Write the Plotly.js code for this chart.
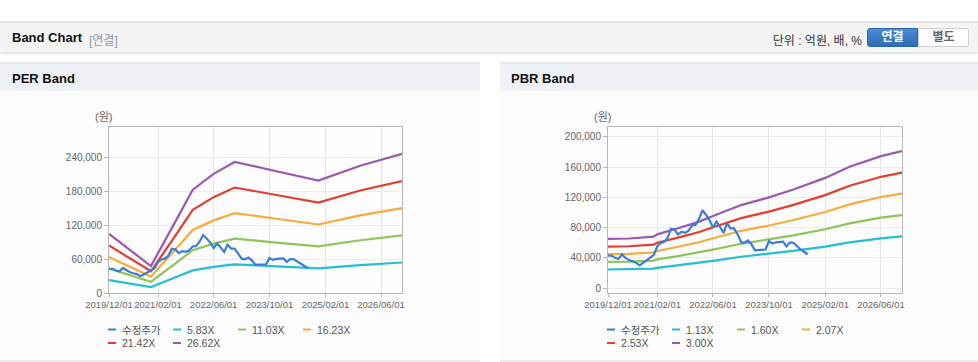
<!DOCTYPE html>
<html><head><meta charset="utf-8">
<script src="https://cdn.plot.ly/plotly-3.0.1.min.js"></script>
<style>
body{margin:0;width:978px;height:362px;background:#fff;position:relative;overflow:hidden;font-family:"Liberation Sans",Arial,"Noto Sans CJK KR",sans-serif;}
#hdr{position:absolute;left:0;top:21px;width:978px;height:29px;background:#f4f4f4;border-top:2px solid #e3e3e3;box-shadow:0 2px 2px rgba(0,0,0,0.13);}
#hdr .t{position:absolute;left:12px;top:7px;font-size:13px;font-weight:bold;color:#111;}
#hdr .s{position:absolute;left:89px;top:8px;font-size:12px;color:#8a96a8;}
#hdr .u{position:absolute;right:116px;top:8px;font-size:12px;color:#333;}
.btn{position:absolute;top:5px;height:17px;width:49px;font-size:12px;font-weight:bold;text-align:center;line-height:17px;}
#b1{left:867px;background:linear-gradient(#4b8cd4,#2f6cb3);border:1px solid #2c66aa;color:#fff;border-radius:3px 0 0 3px;}
#b2{left:918px;background:#fff;border:1px solid #cfcfcf;color:#666;border-radius:0 3px 3px 0;}
.ptitle{position:absolute;top:62px;height:27px;background:#eef1f6;border-top:2px solid #e4e7ec;}
.ptitle span{position:absolute;left:12px;top:7px;font-size:13px;font-weight:bold;color:#111;}
.pbody{position:absolute;top:91px;height:269px;background:#fcfcfc;border-bottom:2px solid #ececec;}
</style></head>
<body>
<div id="hdr"><span class="t">Band Chart</span><span class="s">[연결]</span><span class="u">단위 : 억원, 배, %</span><div class="btn" id="b1">연결</div><div class="btn" id="b2">별도</div></div>
<div class="ptitle" style="left:0;width:480px;"><span>PER Band</span></div>
<div class="ptitle" style="left:500px;width:478px;"><span style="left:11px">PBR Band</span></div>
<div class="pbody" style="left:0;width:480px;"><div id="per"></div></div>
<div class="pbody" style="left:500px;width:478px;"><div id="pbr"></div></div>
<script>
const priceDates = ['2019-12-01','2020-01-01','2020-02-01','2020-03-01','2020-04-01','2020-05-01','2020-06-01','2020-07-01','2020-08-01','2020-09-01','2020-10-01','2020-11-01','2020-12-01','2021-01-01','2021-02-01','2021-03-01','2021-04-01','2021-05-01','2021-06-01','2021-07-01','2021-08-01','2021-09-01','2021-10-01','2021-11-01','2021-12-01','2022-01-01','2022-02-01','2022-03-01','2022-04-01','2022-05-01','2022-06-01','2022-07-01','2022-08-01','2022-09-01','2022-10-01','2022-11-01','2022-12-01','2023-01-01','2023-02-01','2023-03-01','2023-04-01','2023-05-01','2023-06-01','2023-07-01','2023-08-01','2023-09-01','2023-10-01','2023-11-01','2023-12-01','2024-01-01','2024-02-01','2024-03-01','2024-04-01','2024-05-01','2024-06-01','2024-07-01','2024-08-01','2024-09-01'];
const priceValues = [43000,43000,40000,38500,44500,40000,37000,35000,33500,30000,33500,37500,40000,43500,55000,59500,61000,66000,78500,77500,71000,74500,73000,76000,83000,83500,92000,103000,97000,90000,80000,88000,81000,73000,86000,79000,79000,71000,61000,60000,63000,58000,50000,50500,50500,51000,62000,59000,60500,60500,61500,55000,60500,60000,55500,51000,48000,44500];

const perBandDates = ['2019-12-01','2020-12-01','2021-06-01','2021-12-01','2022-06-01','2022-12-01','2023-12-01','2024-12-01','2025-12-01','2026-12-01'];
const perBand583  = [22970,10490,25240,40230,46350,51010,47400,43730,49560,54160];
const perBand1103 = [43460,19850,47760,76110,87690,96510,89670,82730,93760,102470];
const perBand1623 = [63950,29210,70280,111990,129030,142010,131950,121730,137960,150780];
const perBand2142 = [84400,38560,92750,147800,170290,187430,174150,160650,182070,198990];
const perBand2662 = [104880,47920,115260,183680,211630,232930,216420,199650,226270,247300];
const perNames = ['수정주가','5.83X','11.03X','16.23X','21.42X','26.62X'];

const pbrBandDates = ['2019-12-01','2020-06-01','2021-01-01','2021-02-01','2021-08-01','2022-02-01','2022-06-01','2023-02-01','2023-10-01','2024-05-01','2025-02-01','2025-09-01','2026-06-01','2026-12-01'];
const pbrBand113 = [24520,24690,25650,26780,29830,33110,35930,41360,45200,49160,54920,60460,65770,68250];
const pbrBand160 = [34720,34960,36320,37920,42240,46880,50880,58560,64000,69600,77760,85600,93120,96640];
const pbrBand207 = [44920,45230,46990,49060,54650,60650,65830,75760,82800,90050,100600,110750,120470,125030];
const pbrBand253 = [54900,55280,57430,59960,66790,74130,80450,92600,101200,110060,122960,135360,147250,152810];
const pbrBand300 = [65100,65550,68100,71100,79200,87900,95400,109800,120000,130500,145800,160500,174600,181200];
const pbrNames = ['수정주가','1.13X','1.60X','2.07X','2.53X','3.00X'];

const xTickVals = ['2019-12-01','2021-02-01','2022-06-01','2023-10-01','2025-02-01','2026-06-01'];
const xRange = ['2019-12-01','2026-12-01'];
const perYTicks = [0,60000,120000,180000,240000];
const perYRange = [0,295000];
const pbrYTicks = [0,40000,80000,120000,160000,200000];
const pbrYRange = [-6600,213200];
const yUnit = '(원)';
const seriesColors = ['#3b7dd8','#22bfd3','#8fc45a','#f7ab3a','#e23f2f','#9d57b0'];

function makeChart(id, W, H, m, bandDates, bands, names, yTicks, yRange) {
  const plotW = W - m.l - m.r, plotH = H - m.t - m.b;
  const traces = [];
  bands.forEach((b, i) => traces.push({x: bandDates, y: b, type:'scatter', mode:'lines', name: names[i+1],
    line:{color: seriesColors[i+1], width:2.2}, hoverinfo:'skip'}));
  traces.push({x: priceDates, y: priceValues, type:'scatter', mode:'lines', name: names[0],
    line:{color: seriesColors[0], width:2.2}, hoverinfo:'skip'});
  const shapes = [], annotations = [];
  const fontFam = '"Liberation Sans", Arial, "Noto Sans CJK KR", sans-serif';
  names.forEach((n, i) => {
    const col = i % 4, row = Math.floor(i / 4);
    const px = -1 + col * 65;           // relative to plot left
    const py = 36.5 + row * 13.5;       // below plot bottom
    const yp = -py / plotH;
    shapes.push({type:'line', xref:'paper', yref:'paper', x0: px/plotW, x1: (px+8)/plotW, y0: yp, y1: yp,
      line:{color: seriesColors[i], width:2}});
    annotations.push({xref:'paper', yref:'paper', x: (px+12)/plotW, y: yp, xanchor:'left', yanchor:'middle',
      text: n, showarrow:false, font:{family: fontFam, size:10.5, color:'#555'}});
  });
  annotations.push({xref:'paper', yref:'paper', x: -6/plotW, y: 1 + 10/plotH, xanchor:'center', yanchor:'middle',
    text: yUnit, showarrow:false, font:{family: fontFam, size:11, color:'#666'}});
  const layout = {
    width: W, height: H, margin: m,
    paper_bgcolor:'#fcfcfc', plot_bgcolor:'#fdfdfd', showlegend:false,
    font:{family: fontFam, color:'#666'},
    xaxis:{type:'date', range:xRange, tickvals:xTickVals, tickformat:'%Y/%m/%d', tickangle:0,
      showgrid:true, gridcolor:'#e6e6e6', gridwidth:1, linecolor:'#b8b8b8', linewidth:1, mirror:true,
      ticks:'outside', ticklen:3, tickcolor:'#b8b8b8', tickfont:{size:9.5, color:'#666'}, zeroline:false, fixedrange:true},
    yaxis:{range:yRange, tickvals:yTicks, tickformat:',d',
      showgrid:true, gridcolor:'#ececec', gridwidth:1, linecolor:'#b8b8b8', linewidth:1, mirror:true,
      ticks:'outside', ticklen:4, tickcolor:'#b8b8b8', tickfont:{size:10, color:'#666'}, zeroline:false, fixedrange:true},
    shapes: shapes, annotations: annotations
  };
  Plotly.newPlot(id, traces, layout, {staticPlot:true, displayModeBar:false});
}

makeChart('per', 480, 269, {l:109, r:78, t:36, b:67, pad:0}, perBandDates,
  [perBand583, perBand1103, perBand1623, perBand2142, perBand2662], perNames, perYTicks, perYRange);
makeChart('pbr', 478, 269, {l:108, r:76, t:36, b:67, pad:0}, pbrBandDates,
  [pbrBand113, pbrBand160, pbrBand207, pbrBand253, pbrBand300], pbrNames, pbrYTicks, pbrYRange);
</script>
</body></html>
